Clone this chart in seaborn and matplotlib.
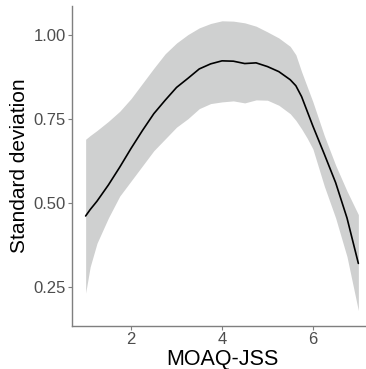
import numpy as np
import pandas as pd
import matplotlib
matplotlib.use('Agg')
import matplotlib.pyplot as plt
import seaborn as sns

# values
moaq = [1.0, 1.1, 1.25, 1.5, 1.75, 2.0, 2.25, 2.5, 2.75, 3.0, 3.25, 3.5, 3.75, 4.0,
        4.25, 4.5, 4.75, 5.0, 5.25, 5.5, 5.625, 5.75, 5.875, 6.0, 6.25, 6.5, 6.75, 7.0]
sd_fit = [0.461, 0.480, 0.505, 0.553, 0.606, 0.662, 0.715, 0.765, 0.805, 0.843, 0.870, 0.898, 0.913, 0.922,
          0.921, 0.914, 0.916, 0.905, 0.890, 0.866, 0.848, 0.816, 0.772, 0.728, 0.645, 0.560, 0.455, 0.320]
sd_upper = [0.689, 0.700, 0.715, 0.742, 0.772, 0.810, 0.855, 0.900, 0.943, 0.975, 1.000, 1.020, 1.033, 1.041,
            1.040, 1.035, 1.025, 1.008, 0.990, 0.965, 0.940, 0.890, 0.845, 0.800, 0.700, 0.612, 0.535, 0.465]
sd_lower = [0.232, 0.310, 0.380, 0.455, 0.520, 0.565, 0.610, 0.655, 0.690, 0.725, 0.750, 0.780, 0.795, 0.800,
            0.803, 0.797, 0.806, 0.805, 0.790, 0.765, 0.745, 0.720, 0.692, 0.660, 0.550, 0.455, 0.340, 0.180]
yticks = [0.25, 0.50, 0.75, 1.00]
xticks = [2, 4, 6]

df = pd.DataFrame({'MOAQ-JSS': moaq, 'sd': sd_fit, 'lo': sd_lower, 'hi': sd_upper})

sns.set_style('white')
plt.rcParams['font.family'] = ['Liberation Sans', 'DejaVu Sans']

fig = plt.figure(figsize=(3.66, 3.69), dpi=100)
ax = fig.add_axes([72 / 366, 1 - 326 / 369, (372 - 72) / 366, (326 - 6) / 369])

ax.fill_between(df['MOAQ-JSS'], df['lo'], df['hi'], color='#cfd0d0', lw=0, zorder=1)
sns.lineplot(x='MOAQ-JSS', y='sd', data=df, color='black', lw=1.2, ax=ax, zorder=2)

ax.set_xlim(0.7, 7.3)
ax.set_ylim(0.134, 1.085)
ax.set_xticks(xticks)
ax.set_yticks(yticks)
ax.set_yticklabels(['%.2f' % v for v in yticks])
ax.set_xlabel('MOAQ-JSS', fontsize=15.5, color='black', labelpad=1)
ax.set_ylabel('Standard deviation', fontsize=15, color='black', labelpad=3)
ax.tick_params(axis='both', labelsize=12, labelcolor='#4d4d4d', color='#7f7f7f',
               length=3, width=0.8, pad=1.5, direction='out', left=True, bottom=True)
sns.despine(ax=ax)
for s in ['left', 'bottom']:
    ax.spines[s].set_color('#7f7f7f')
    ax.spines[s].set_linewidth(1.0)

fig.savefig('out.png', dpi=100)
